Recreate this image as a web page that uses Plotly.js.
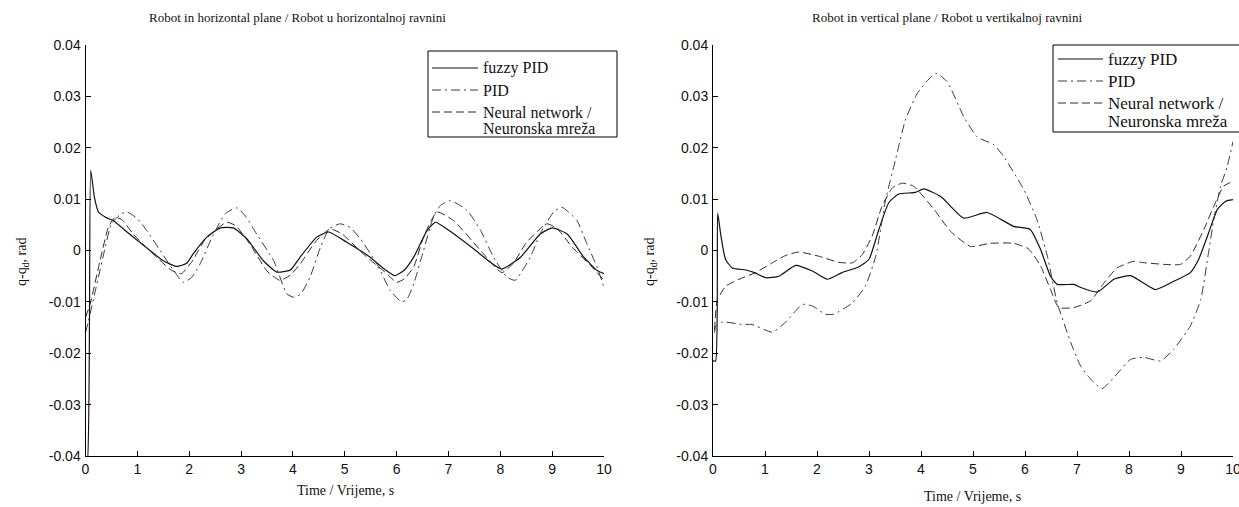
<!DOCTYPE html>
<html>
<head>
<meta charset="utf-8">
<script src="https://cdn.plot.ly/plotly-3.0.1.min.js"></script>
<style>html,body{margin:0;padding:0;background:#fff;}#chart{width:1239px;height:507px;}</style>
</head>
<body>
<div id="chart"></div>
<script>
// ---- Left panel: robot in horizontal plane ----
const tFuzzyH = [0.0,0.03,0.1,0.17,0.25,0.4,0.54,0.8,1.12,1.5,1.76,1.95,2.08,2.34,2.6,2.85,3.11,3.43,3.69,3.95,4.14,4.46,4.69,5.04,5.49,5.75,5.97,6.15,6.33,6.59,6.75,6.97,7.49,7.81,8.03,8.39,8.77,9.0,9.29,9.61,9.87,10.0];
const fuzzyH = [-0.042,-0.042,0.0156,0.0105,0.0075,0.0064,0.0058,0.0036,0.001,-0.002,-0.0031,-0.0025,-0.0006,0.0026,0.0044,0.0044,0.0023,-0.002,-0.0042,-0.0038,-0.0013,0.0026,0.0036,0.0016,-0.0013,-0.0035,-0.0049,-0.0038,-0.0013,0.0039,0.0055,0.0042,0.0003,-0.0023,-0.0036,-0.0013,0.0032,0.0044,0.0032,-0.0013,-0.0039,-0.0045];

const tPidH = [0.0,0.05,0.22,0.38,0.5,0.67,0.8,1.0,1.18,1.44,1.7,1.89,2.05,2.21,2.47,2.7,2.92,3.1,3.3,3.63,3.88,4.01,4.15,4.33,4.53,4.7,4.91,5.1,5.3,5.62,5.88,6.1,6.2,6.33,6.52,6.71,6.85,7.04,7.36,7.62,7.87,8.13,8.29,8.42,8.58,8.77,9.03,9.19,9.48,9.67,9.87,10.0];
const pidH = [-0.016,-0.014,-0.0065,0.0006,0.0052,0.007,0.0075,0.0062,0.0039,0.0,-0.0039,-0.0062,-0.0052,-0.0026,0.0032,0.0072,0.0083,0.0065,0.0032,-0.002,-0.0084,-0.0091,-0.0085,-0.0052,0.0006,0.0042,0.0052,0.0045,0.0023,-0.0026,-0.0078,-0.01,-0.0095,-0.0065,0.0,0.0065,0.0088,0.0097,0.0078,0.0039,-0.0013,-0.0052,-0.0058,-0.004,-0.0013,0.0033,0.0075,0.0084,0.0058,0.0013,-0.0033,-0.0072];

const tNnH = [0.0,0.09,0.28,0.44,0.57,0.7,0.92,1.37,1.65,1.85,2.05,2.3,2.72,2.9,3.2,3.5,3.75,3.95,4.14,4.46,4.72,4.95,5.36,5.81,6.0,6.15,6.33,6.52,6.78,7.1,7.62,8.03,8.25,8.5,8.9,9.1,9.4,9.74,10.0];
const nnH = [-0.013,-0.0104,-0.002,0.0045,0.0065,0.006,0.0032,-0.0013,-0.0038,-0.0045,-0.0022,0.002,0.0055,0.0048,0.0008,-0.004,-0.0058,-0.0048,-0.0026,0.002,0.0042,0.0032,-0.0007,-0.0045,-0.0062,-0.0055,-0.0032,0.0026,0.0075,0.0058,0.0,-0.0043,-0.0025,0.0015,0.0052,0.0042,0.0005,-0.0029,-0.0058];

// ---- Right panel: robot in vertical plane ----
const tFuzzyV = [0.0,0.05,0.09,0.15,0.24,0.37,0.63,0.8,1.01,1.27,1.59,1.91,2.2,2.48,2.8,3.0,3.19,3.38,3.57,3.89,4.05,4.38,4.82,5.27,5.78,6.1,6.3,6.49,6.62,6.94,7.07,7.39,7.71,8.03,8.51,8.86,9.18,9.34,9.53,9.7,9.86,10.0];
const fuzzyV = [-0.0215,-0.0215,0.0073,0.003,-0.0017,-0.0034,-0.0038,-0.0043,-0.0053,-0.005,-0.0029,-0.004,-0.0056,-0.0043,-0.0032,-0.0017,0.0041,0.0093,0.011,0.0113,0.012,0.0105,0.0063,0.0074,0.0047,0.0041,0.0002,-0.005,-0.0066,-0.0066,-0.0072,-0.0081,-0.0056,-0.0049,-0.0076,-0.006,-0.0043,-0.0017,0.0034,0.008,0.0096,0.0099];

const tPidV = [0.03,0.05,0.18,0.56,0.75,1.14,1.39,1.72,1.91,2.16,2.32,2.68,2.93,3.13,3.32,3.51,3.7,3.93,4.28,4.5,4.82,5.08,5.4,5.59,5.98,6.23,6.43,6.62,6.88,7.07,7.26,7.48,7.71,8.03,8.28,8.61,8.86,9.18,9.38,9.53,9.63,9.76,9.89,10.0];
const pidV = [-0.016,-0.0147,-0.0139,-0.0144,-0.0144,-0.0159,-0.014,-0.0105,-0.0108,-0.0124,-0.0124,-0.0102,-0.0069,-0.0011,0.0099,0.0177,0.0254,0.0306,0.0345,0.0329,0.0261,0.0221,0.0206,0.0183,0.0118,0.006,-0.0011,-0.0102,-0.0179,-0.0225,-0.025,-0.0269,-0.0247,-0.0212,-0.0208,-0.0215,-0.0192,-0.0147,-0.0095,-0.0004,0.006,0.0125,0.0164,0.0212];

const tNnV = [0.03,0.08,0.24,0.5,0.82,1.14,1.39,1.65,2.03,2.42,2.68,2.87,3.06,3.25,3.45,3.64,3.86,4.25,4.57,4.95,5.34,5.78,6.07,6.3,6.49,6.65,6.94,7.26,7.52,7.77,8.09,8.22,8.67,8.99,9.18,9.44,9.63,9.82,10.0];
const nnV = [-0.0155,-0.0098,-0.007,-0.0056,-0.0043,-0.0024,-0.001,-0.0003,-0.0011,-0.0023,-0.0024,-0.0008,0.0028,0.0086,0.0122,0.0131,0.0125,0.008,0.0037,0.0008,0.0014,0.0014,0.0003,-0.003,-0.0076,-0.0111,-0.0111,-0.0098,-0.0063,-0.0034,-0.0021,-0.0023,-0.0027,-0.0027,-0.0011,0.0041,0.0086,0.0125,0.0135];

// ---- Names, titles, ticks ----
const seriesNames = ['fuzzy PID', 'PID', 'Neural network /<br>Neuronska mreža'];
const panelTitles = ['Robot in horizontal plane / Robot u horizontalnoj ravnini', 'Robot in vertical plane / Robot u vertikalnoj ravnini'];
const xTitle = 'Time / Vrijeme, s';
const yTitle = 'q-q<sub>d</sub>, rad';
const xTickVals = [0,1,2,3,4,5,6,7,8,9,10];
const xTickText = ['0','1','2','3','4','5','6','7','8','9','10'];
const yTickVals = [-0.04,-0.03,-0.02,-0.01,0,0.01,0.02,0.03,0.04];
const yTickText = ['-0.04','-0.03','-0.02','-0.01','0','0.01','0.02','0.03','0.04'];

const styles = [
  {color:'#111111', width:1.2, dash:'solid'},
  {color:'#3a3a3a', width:1, dash:'9px,4px,2px,4px'},
  {color:'#2a2a2a', width:1, dash:'8px,4px'}
];
const shape = {shape:'spline', smoothing:0.5};

function mk(x, y, i, xa, ya) {
  return {x:x, y:y, type:'scatter', mode:'lines', name:seriesNames[i],
    xaxis:xa, yaxis:ya, showlegend:false,
    line:Object.assign({}, styles[i], shape)};
}

const traces = [
  mk(tFuzzyH, fuzzyH, 0, 'x', 'y'),
  mk(tPidH, pidH, 1, 'x', 'y'),
  mk(tNnH, nnH, 2, 'x', 'y'),
  mk(tFuzzyV, fuzzyV, 0, 'x2', 'y2'),
  mk(tPidV, pidV, 1, 'x2', 'y2'),
  mk(tNnV, nnV, 2, 'x2', 'y2')
];

const tickFont = {family:'"Liberation Sans", Arial, sans-serif', size:14, color:'#111'};
const serif = '"Liberation Serif", "Times New Roman", Times, serif';

function xax(dom, anchor) {
  return {domain:dom, anchor:anchor, range:[0,10], tickvals:xTickVals, ticktext:xTickText,
    ticks:'inside', ticklen:5, tickwidth:1, tickcolor:'#000', showline:true, linecolor:'#000', linewidth:1,
    showgrid:false, zeroline:false, tickfont:tickFont, mirror:false, fixedrange:true,
    ticklabeloverflow:'allow'};
}
function yax(dom, anchor) {
  return {domain:dom, anchor:anchor, range:[-0.04,0.04], tickvals:yTickVals, ticktext:yTickText,
    ticks:'inside', ticklen:5, tickwidth:1, tickcolor:'#000', showline:true, linecolor:'#000', linewidth:1,
    showgrid:false, zeroline:false, tickfont:tickFont, mirror:false, fixedrange:true,
    ticklabelstandoff:1};
}

const W = 1239, H = 507;
const px = x => x / W, py = y => (H - y) / H;
const yDom = [py(456), py(45)];

const ann = [
  {text:panelTitles[0], x:297, y:18},
  {text:panelTitles[1], x:947, y:18},
  {text:xTitle, x:345, y:490, size:14},
  {text:xTitle, x:972, y:496, size:14},
  {text:yTitle, x:22, y:262, size:14, rot:-90},
  {text:yTitle, x:650, y:262, size:14, rot:-90}
].map(a => ({text:a.text, x:px(a.x), y:py(a.y), xref:'paper', yref:'paper', xanchor:'center', yanchor:'middle',
  showarrow:false, textangle:a.rot||0, font:{family:serif, size:a.size||13, color:'#111'}}));

// ---- legends (one per panel) ----
const legends = [
  {box:[428, 51, 617, 137], rows:[68, 90, 112], line:[432, 478], textX:481, size:16, gap:17},
  {box:[1053, 45, 1250, 132], rows:[59, 81, 103], line:[1058, 1103], textX:1106, size:17, gap:18}
];
const shapes = [];
legends.forEach(L => {
  shapes.push({type:'rect', xref:'paper', yref:'paper', x0:px(L.box[0]), x1:px(L.box[2]), y0:py(L.box[3]), y1:py(L.box[1]),
    line:{color:'#000', width:1}, fillcolor:'#fff', layer:'above'});
  L.rows.forEach((ry, i) => {
    shapes.push({type:'line', xref:'paper', yref:'paper', x0:px(L.line[0]), x1:px(L.line[1]), y0:py(ry), y1:py(ry),
      line:{color:styles[i].color, width:styles[i].width, dash:styles[i].dash}, layer:'above'});
    seriesNames[i].split('<br>').forEach((part, k) => {
      ann.push({text:part, x:px(L.textX), y:py(ry + k * L.gap), xref:'paper', yref:'paper',
        xanchor:'left', yanchor:'middle', align:'left', showarrow:false,
        font:{family:serif, size:L.size, color:'#111'}});
    });
  });
});

const layout = {
  width:W, height:H, margin:{l:0, r:0, t:0, b:0},
  paper_bgcolor:'#fff', plot_bgcolor:'#fff',
  xaxis:xax([px(85.5), px(604)], 'y'),
  yaxis:yax(yDom, 'x'),
  xaxis2:xax([px(713), px(1233)], 'y2'),
  yaxis2:yax(yDom, 'x2'),
  annotations:ann,
  shapes:shapes,
  showlegend:false
};

Plotly.newPlot('chart', traces, layout, {displayModeBar:false, staticPlot:true});
</script>
</body>
</html>
